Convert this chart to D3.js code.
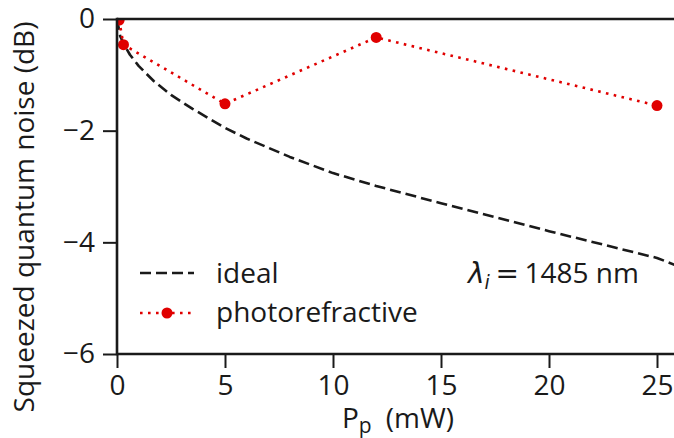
<!DOCTYPE html>
<html>
<head>
<meta charset="utf-8">
<script src="https://cdn.jsdelivr.net/npm/d3@7"></script>
<style>
  body { margin: 0; background: #fff; }
  svg text { font-family: "Open Sans", sans-serif; fill: #1a1a1a; }
</style>
</head>
<body>
<div id="chart"></div>
<script>
// data
var idealX = [0, 0.15, 0.3, 0.6, 1, 1.7, 2.5, 3.5, 5, 6, 8, 10, 12, 15, 17.5, 20, 22.5, 25, 30];
var idealY = [0, -0.31, -0.44, -0.64, -0.84, -1.11, -1.36, -1.61, -1.95, -2.14, -2.47, -2.76, -2.99, -3.3, -3.55, -3.8, -4.04, -4.28, -5.03];

var prX = [0.1, 0.3, 5, 12, 25];
var prY = [-0.02, -0.46, -1.52, -0.33, -1.55];

var xTicks = [0, 5, 10, 15, 20, 25];
var yTicks = [0, -2, -4, -6];

var width = 674, height = 438;
var margin = {top: 19, left: 117, bottom: 354};
var red = "#e00000";
var fs = 28;

var svg = d3.select("#chart").append("svg")
  .attr("width", width)
  .attr("height", height);

var x = d3.scaleLinear().domain([0, 25]).range([margin.left, margin.left + 25 * 21.6]);
var y = d3.scaleLinear().domain([-6, 0]).range([margin.bottom, margin.top]);

svg.append("clipPath").attr("id", "clip")
  .append("rect")
  .attr("x", margin.left).attr("y", margin.top)
  .attr("width", width - margin.left).attr("height", margin.bottom - margin.top);

var plot = svg.append("g").attr("clip-path", "url(#clip)");

var ideal = idealX.map((v, i) => [v, idealY[i]]);
var pr = prX.map((v, i) => [v, prY[i]]);

var line = d3.line().x(d => x(d[0])).y(d => y(d[1]));

plot.append("path")
  .datum(ideal)
  .attr("d", line)
  .attr("fill", "none")
  .attr("stroke", "#1a1a1a")
  .attr("stroke-width", 2.6)
  .attr("stroke-linejoin", "round")
  .attr("stroke-dasharray", "11,5");

plot.append("path")
  .datum(pr)
  .attr("d", line)
  .attr("fill", "none")
  .attr("stroke", red)
  .attr("stroke-width", 2.6)
  .attr("stroke-dasharray", "2.6,5.4");

plot.selectAll("circle.pr")
  .data(pr)
  .join("circle")
  .attr("class", "pr")
  .attr("cx", d => x(d[0]))
  .attr("cy", d => y(d[1]))
  .attr("r", 5.5)
  .attr("fill", red);

// axes
var xAxis = d3.axisBottom(x).tickValues(xTicks).tickSize(14).tickPadding(7);
var yAxis = d3.axisLeft(y).tickValues(yTicks).tickSize(14).tickPadding(8)
  .tickFormat(d => d < 0 ? "\u2212" + Math.abs(d) : d);

var gx = svg.append("g")
  .attr("transform", `translate(0,${margin.bottom})`)
  .call(xAxis);
var gy = svg.append("g")
  .attr("transform", `translate(${margin.left},0)`)
  .call(yAxis);

[gx, gy].forEach(g => {
  g.select(".domain").remove();
  g.selectAll(".tick line").attr("stroke", "#1a1a1a").attr("stroke-width", 2);
  g.selectAll(".tick text")
    .attr("font-family", "Open Sans")
    .attr("font-size", fs)
    .attr("fill", "#1a1a1a");
});

// spines
svg.append("line").attr("x1", margin.left).attr("x2", width)
  .attr("y1", margin.top).attr("y2", margin.top)
  .attr("stroke", "#1a1a1a").attr("stroke-width", 2.6);
svg.append("line").attr("x1", margin.left).attr("x2", width)
  .attr("y1", margin.bottom).attr("y2", margin.bottom)
  .attr("stroke", "#1a1a1a").attr("stroke-width", 2.6);
svg.append("line").attr("x1", margin.left).attr("x2", margin.left)
  .attr("y1", margin.top - 1.3).attr("y2", margin.bottom + 1.3)
  .attr("stroke", "#1a1a1a").attr("stroke-width", 2.6);

// axis titles
var xl = svg.append("text")
  .attr("x", 398).attr("y", 428)
  .attr("text-anchor", "middle")
  .attr("font-size", fs);
xl.append("tspan").text("P");
xl.append("tspan").attr("font-size", 21).attr("dy", 5).text("p");
xl.append("tspan").attr("dy", -5).text("\u2002(mW)");

svg.append("text")
  .attr("transform", "translate(34,217) rotate(-90)")
  .attr("text-anchor", "middle")
  .attr("font-size", fs)
  .text("Squeezed quantum noise (dB)");

// legend
var leg = svg.append("g");
leg.append("line")
  .attr("x1", 140).attr("x2", 194).attr("y1", 273).attr("y2", 273)
  .attr("stroke", "#1a1a1a").attr("stroke-width", 2.6)
  .attr("stroke-dasharray", "11,5");
leg.append("text").attr("x", 216).attr("y", 283).attr("font-size", fs).text("ideal");

leg.append("line")
  .attr("x1", 140).attr("x2", 194).attr("y1", 313).attr("y2", 313)
  .attr("stroke", red).attr("stroke-width", 2.6)
  .attr("stroke-dasharray", "2.6,5.4");
leg.append("circle").attr("cx", 167).attr("cy", 313).attr("r", 5.5).attr("fill", red);
leg.append("text").attr("x", 216).attr("y", 322).attr("font-size", fs).text("photorefractive");

// annotation
var ann = svg.append("text").attr("x", 468).attr("y", 283).attr("font-size", fs);
ann.append("tspan").attr("font-family", "DejaVu Sans").attr("font-style", "italic").text("\u03bb");
ann.append("tspan").attr("font-family", "DejaVu Sans").attr("font-style", "italic")
  .attr("font-size", 19).attr("dy", 6).text("i");
ann.append("tspan").attr("dy", -6).attr("font-family", "DejaVu Sans").text("\u2009=\u2009");
ann.append("tspan").text("1485 nm");
</script>
</body>
</html>
